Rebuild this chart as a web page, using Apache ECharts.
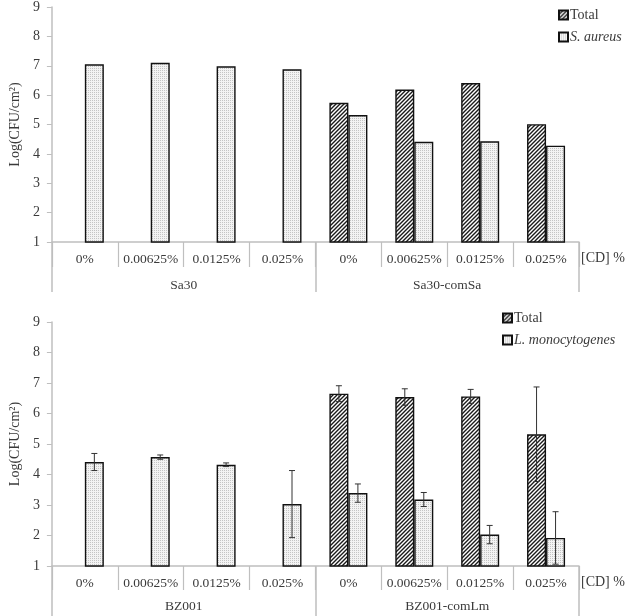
<!DOCTYPE html>
<html>
<head>
<meta charset="utf-8">
<script src="https://cdn.jsdelivr.net/npm/echarts@6/dist/echarts.min.js"></script>
<style>html,body{margin:0;padding:0;background:#fff}#c{width:625px;height:616px}</style>
</head>
<body>
<div id="c"></div>
<script>
// ---- data ----
const categories = ['0%', '0.00625%', '0.0125%', '0.025%', '0%', '0.00625%', '0.0125%', '0.025%'];
const topGroups = ['Sa30', 'Sa30-comSa'];
const bottomGroups = ['BZ001', 'BZ001-comLm'];
const topTotal = [null, null, null, null, 5.74, 6.19, 6.41, 5.01];
const topSaureus = [7.05, 7.10, 6.98, 6.88, 5.32, 4.41, 4.43, 4.28];
const botTotal = [null, null, null, null, 6.65, 6.54, 6.56, 5.32];
const botTotalErr = [null, null, null, null, 0.26, 0.27, 0.23, 1.55];
const botLm = [4.41, 4.57, 4.32, 3.03, 3.39, 3.18, 2.03, 1.92];
const botLmErr = [0.28, 0.07, 0.06, 1.10, 0.30, 0.23, 0.30, 0.86];
const yTicks = [1, 2, 3, 4, 5, 6, 7, 8, 9];

// ---- patterns ----
function hatchPattern() {
  const c = document.createElement('canvas');
  c.width = 4; c.height = 4;
  const g = c.getContext('2d');
  g.fillStyle = '#ffffff'; g.fillRect(0, 0, 4, 4);
  g.strokeStyle = '#1a1a1a'; g.lineWidth = 1.4;
  g.beginPath();
  g.moveTo(-1, 5); g.lineTo(5, -1);
  g.moveTo(-1, 1); g.lineTo(1, -1);
  g.moveTo(3, 5); g.lineTo(5, 3);
  g.stroke();
  return c;
}
function dotPattern() {
  const c = document.createElement('canvas');
  c.width = 2; c.height = 2;
  const g = c.getContext('2d');
  g.fillStyle = '#f3f3f3'; g.fillRect(0, 0, 2, 2);
  g.fillStyle = '#c4c4c4'; g.fillRect(0, 0, 1, 1);
  return c;
}
const hatch = { image: hatchPattern(), repeat: 'repeat' };
const dots = { image: dotPattern(), repeat: 'repeat' };

const FONT = 'Liberation Serif';
const TXT = '#3a3a3a';
const GRAY = '#bfbfbf';
const BW = 19;
const FS = 13.5;

function yAxis(gridIndex) {
  return {
    type: 'value', gridIndex, min: yTicks[0], max: yTicks[yTicks.length - 1], interval: 1,
    name: 'Log(CFU/cm²)', nameLocation: 'middle', nameGap: 27,
    nameTextStyle: { fontFamily: FONT, fontSize: 14, color: TXT },
    axisLine: { show: true, lineStyle: { color: GRAY, width: 1.5 } },
    axisTick: { show: true, inside: false, length: 5, lineStyle: { color: GRAY } },
    axisLabel: { fontFamily: FONT, fontSize: 14, color: TXT, margin: 12 },
    splitLine: { show: false }
  };
}
function catAxis(gridIndex, margin, tickLen) {
  return {
    type: 'category', gridIndex, position: 'bottom', data: categories,
    axisLine: { show: true, lineStyle: { color: GRAY, width: 1.5 } },
    axisTick: { show: true, alignWithLabel: false, interval: 0, length: tickLen, lineStyle: { color: GRAY, width: 1.2 } },
    axisLabel: { fontFamily: FONT, fontSize: FS, color: TXT, margin: margin, interval: 0 }
  };
}
function groupAxis(gridIndex, data, margin, tickLen) {
  return {
    type: 'category', gridIndex, position: 'bottom', offset: 0, data: data,
    axisLine: { show: false },
    axisTick: { show: true, alignWithLabel: false, interval: 0, length: tickLen, lineStyle: { color: GRAY, width: 1.5 } },
    axisLabel: { fontFamily: FONT, fontSize: FS, color: TXT, margin: margin, interval: 0 }
  };
}
function bar(name, data, pattern, xi, yi) {
  return {
    name, type: 'bar', xAxisIndex: xi, yAxisIndex: yi, data,
    barWidth: BW, barGap: '0%',
    itemStyle: { color: pattern, borderColor: '#111', borderWidth: 1.4 },
    silent: true
  };
}
function errSeries(name, vals, errs, offset, xi, yi) {
  const d = [];
  vals.forEach((v, i) => { if (v != null && errs[i] != null) d.push([i, v, errs[i]]); });
  return {
    name, type: 'custom', xAxisIndex: xi, yAxisIndex: yi, data: d, z: 5, silent: true,
    renderItem: function (params, api) {
      const i = api.value(0), v = api.value(1), e = api.value(2);
      const hi = api.coord([i, v + e]);
      const lo = api.coord([i, Math.max(v - e, 1)]);
      const x = hi[0] + offset;
      const cap = 3;
      const st = { stroke: '#333', lineWidth: 1 };
      return {
        type: 'group', children: [
          { type: 'line', shape: { x1: x, y1: hi[1], x2: x, y2: lo[1] }, style: st },
          { type: 'line', shape: { x1: x - cap, y1: hi[1], x2: x + cap, y2: hi[1] }, style: st },
          { type: 'line', shape: { x1: x - cap, y1: lo[1], x2: x + cap, y2: lo[1] }, style: st }
        ]
      };
    }
  };
}
const legendFmt = name => name === 'Total' ? name : '{i|' + name + '}';
function legend(left, top, data) {
  return {
    left, top, orient: 'vertical', data, itemGap: 8,
    icon: 'rect', itemWidth: 9, itemHeight: 9, selectedMode: false,
    formatter: legendFmt,
    textStyle: { fontFamily: FONT, fontSize: 14, color: TXT, padding: [0, 0, 0, -3],
      rich: { i: { fontFamily: FONT, fontSize: 14, fontStyle: 'italic', color: TXT } } }
  };
}

const chart = echarts.init(document.getElementById('c'));
chart.setOption({
  animation: false,
  backgroundColor: '#ffffff',
  grid: [
    { left: 43, right: 46, top: 5, height: 237 },
    { left: 43, right: 46, top: 322, height: 244 }
  ],
  xAxis: [
    catAxis(0, 10, 25),
    groupAxis(0, topGroups, 36, 50),
    catAxis(1, 10, 24),
    groupAxis(1, bottomGroups, 33, 50)
  ],
  yAxis: [yAxis(0), yAxis(1)],
  legend: [
    legend(553, 3, ['Total', 'S. aureus']),
    legend(497, 306, ['Total', 'L. monocytogenes'])
  ],
  graphic: [
    { type: 'text', left: 581, top: 251, style: { text: '[CD] %', font: '14px "Liberation Serif"', fill: TXT } },
    { type: 'text', left: 581, top: 575, style: { text: '[CD] %', font: '14px "Liberation Serif"', fill: TXT } }
  ],
  series: [
    bar('Total', topTotal, hatch, 0, 0),
    bar('S. aureus', topSaureus, dots, 0, 0),
    bar('Total', botTotal, hatch, 2, 1),
    bar('L. monocytogenes', botLm, dots, 2, 1),
    errSeries('errTotal', botTotal, botTotalErr, -BW / 2, 2, 1),
    errSeries('errLm', botLm, botLmErr, BW / 2, 2, 1)
  ]
});
</script>
</body>
</html>
